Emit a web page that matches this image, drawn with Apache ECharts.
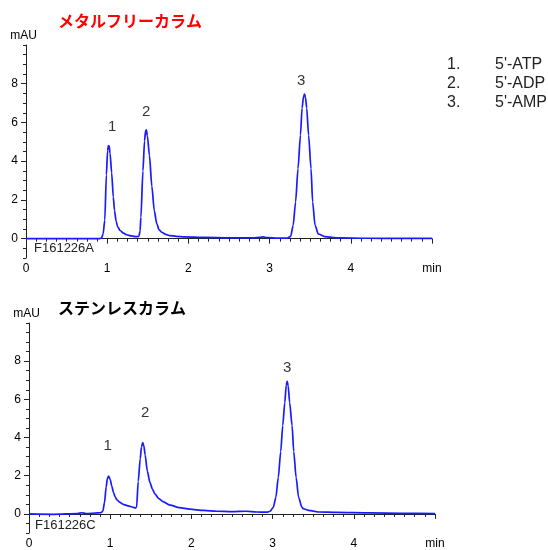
<!DOCTYPE html>
<html>
<head>
<meta charset="utf-8">
<script src="https://cdn.jsdelivr.net/npm/echarts@6/dist/echarts.min.js"></script>
<style>
  html, body { margin: 0; padding: 0; background: #fff; }
  #chart { width: 548px; height: 550px; }
</style>
</head>
<body>
<div id="chart"></div>
<script>
// Chromatogram traces: [retention time (min), absorbance (mAU)]
const metalFreeTrace = [
  [0, 0.0], [0.3, 0.0], [0.6, 0.0], [0.9, 0.0], [0.93, 0.02], [0.95, 0.25], [0.97, 0.95],
  [0.99, 3.3], [1.005, 4.55], [1.015, 4.8], [1.025, 4.78], [1.035, 4.4], [1.055, 3.4],
  [1.075, 2.15], [1.09, 1.45], [1.11, 0.9], [1.13, 0.6], [1.16, 0.42], [1.2, 0.28],
  [1.24, 0.2], [1.3, 0.14], [1.36, 0.1], [1.39, 0.11], [1.405, 0.4], [1.415, 1.1],
  [1.44, 3.5], [1.46, 5.05], [1.472, 5.55], [1.482, 5.62], [1.495, 5.3], [1.52, 4.3],
  [1.55, 2.7], [1.58, 1.45], [1.61, 0.78], [1.64, 0.45], [1.67, 0.33], [1.72, 0.22],
  [1.77, 0.16], [1.85, 0.12], [1.95, 0.09], [2.2, 0.06], [2.5, 0.04], [2.8, 0.04],
  [2.88, 0.07], [2.92, 0.09], [2.97, 0.05], [3.1, 0.03], [3.22, 0.03], [3.26, 0.12],
  [3.29, 0.68], [3.32, 1.89], [3.35, 3.62], [3.38, 5.35], [3.40, 6.74], [3.418, 7.35],
  [3.43, 7.46], [3.442, 7.3], [3.457, 6.74], [3.48, 5.35], [3.51, 3.62], [3.53, 1.89],
  [3.56, 0.68], [3.6, 0.24], [3.68, 0.1], [3.85, 0.04], [4.2, 0.02], [4.6, 0.01], [5, 0.01]
];
const stainlessTrace = [
  [0, 0.0], [0.3, -0.02], [0.6, 0.02], [0.65, 0.06], [0.7, 0.02], [0.85, 0.05],
  [0.89, 0.07], [0.91, 0.15], [0.93, 0.6], [0.95, 1.4], [0.965, 1.85], [0.98, 1.98],
  [1.0, 1.8], [1.02, 1.45], [1.04, 1.13], [1.06, 0.9], [1.08, 0.75], [1.12, 0.6],
  [1.16, 0.5], [1.22, 0.42], [1.28, 0.35], [1.31, 0.31], [1.325, 0.35], [1.345, 1.7],
  [1.37, 2.9], [1.385, 3.5], [1.40, 3.74], [1.415, 3.55], [1.43, 3.1], [1.457, 2.25],
  [1.49, 1.64], [1.52, 1.3], [1.55, 1.05], [1.6, 0.8], [1.65, 0.64], [1.74, 0.46],
  [1.85, 0.33], [1.98, 0.25], [2.15, 0.18], [2.31, 0.14], [2.5, 0.12], [2.68, 0.14],
  [2.8, 0.1], [2.93, 0.09], [2.97, 0.14], [3.01, 0.36], [3.04, 0.87], [3.07, 1.9],
  [3.10, 3.27], [3.125, 4.63], [3.15, 5.83], [3.168, 6.75], [3.18, 6.94], [3.192, 6.7],
  [3.21, 5.83], [3.24, 4.63], [3.26, 3.27], [3.29, 1.9], [3.32, 0.87], [3.36, 0.36],
  [3.38, 0.27], [3.44, 0.19], [3.5, 0.15], [3.56, 0.1], [3.79, 0.08], [4.2, 0.05],
  [4.6, 0.03], [5, 0.02]
];

// Peak number labels: [time, mAU, text]
const metalFreePeakLabels = [[1.06, 5.77, '1'], [1.48, 6.55, '2'], [3.39, 8.16, '3']];
const stainlessPeakLabels = [[0.97, 3.55, '1'], [1.43, 5.30, '2'], [3.18, 7.67, '3']];

// Axis ranges and tick labels
const timeRange = [0, 5];
const mauRange = [-1, 10];
const mauTickLabels = [0, 2, 4, 6, 8];

// Panel titles, run IDs and compound list
const panelTitles = ['メタルフリーカラム', 'ステンレスカラム'];
const runIds = ['F161226A', 'F161226C'];
const compoundNumbers = ['1.', '2.', '3.'];
const compoundNames = ["5'-ATP", "5'-ADP", "5'-AMP"];

const LATIN = '"Liberation Sans", Arial, sans-serif';
const CJK = '"Noto Sans CJK JP", sans-serif';
const AXIS_COLOR = '#222';
const TEXT_COLOR = '#000';
const TRACE_COLOR = '#1a1aff';

const grids = [
  { left: 26, width: 406, top: 45, height: 213 },
  { left: 29, width: 406, top: 323, height: 213 }
];

function xAxisFor(i) {
  return {
    type: 'value', gridIndex: i, position: 'bottom',
    min: timeRange[0], max: timeRange[1], interval: 1,
    axisLine: { lineStyle: { color: AXIS_COLOR, width: 1 } },
    axisTick: { length: 5, lineStyle: { color: AXIS_COLOR } },
    minorTick: { show: true, splitNumber: 8, length: 3, lineStyle: { color: AXIS_COLOR } },
    splitLine: { show: false },
    axisLabel: {
      margin: 5, color: TEXT_COLOR, fontSize: 12, fontFamily: LATIN,
      formatter: v => (v === timeRange[1] ? 'min' : String(v))
    }
  };
}

// Main y axis: line and fine ticks every 0.5 mAU
function yAxisFor(i) {
  return {
    type: 'value', gridIndex: i, position: 'left', offset: 0,
    min: mauRange[0], max: mauRange[1], interval: 0.5,
    name: 'mAU', nameLocation: 'end', nameGap: 3,
    nameTextStyle: { color: TEXT_COLOR, fontSize: 12, fontFamily: LATIN, align: 'center', padding: [0, 5, 0, 0] },
    axisLine: { show: true, lineStyle: { color: AXIS_COLOR, width: 1 } },
    axisTick: { show: true, length: 3, lineStyle: { color: AXIS_COLOR } },
    splitLine: { show: false },
    axisLabel: { show: false }
  };
}

// Companion y axis carrying the numbered labels and longer major ticks
function yLabelAxisFor(i) {
  return {
    type: 'value', gridIndex: i, position: 'left', offset: 0,
    min: mauRange[0], max: mauRange[1],
    axisLine: { show: false },
    axisTick: { show: true, length: 5, customValues: mauTickLabels, lineStyle: { color: AXIS_COLOR } },
    splitLine: { show: false },
    axisLabel: { show: true, customValues: mauTickLabels, margin: 8, color: TEXT_COLOR, fontSize: 12, fontFamily: LATIN }
  };
}

function traceSeries(i, data) {
  return {
    type: 'line', xAxisIndex: i, yAxisIndex: i, data: data,
    showSymbol: false, smooth: 0.25, smoothMonotone: 'x',
    lineStyle: { color: TRACE_COLOR, width: 1.7 }, silent: true, animation: false
  };
}

function peakLabelSeries(i, data) {
  return {
    type: 'scatter', xAxisIndex: i, yAxisIndex: i, data: data, symbolSize: 0,
    silent: true, animation: false,
    label: {
      show: true, position: 'inside', formatter: p => p.value[2],
      color: TEXT_COLOR, fontSize: 15, fontFamily: LATIN
    }
  };
}

const graphics = [
  { type: 'text', left: 58, top: 13, style: { text: panelTitles[0], fill: '#f00', font: 'bold 16px ' + CJK } },
  { type: 'text', left: 58, top: 300, style: { text: panelTitles[1], fill: '#000', font: 'bold 16px ' + CJK } },
  { type: 'text', left: 34, top: 242, style: { text: runIds[0], fill: '#222', font: '13px ' + LATIN } },
  { type: 'text', left: 35, top: 519, style: { text: runIds[1], fill: '#222', font: '13px ' + LATIN } }
];
compoundNumbers.forEach((n, k) => {
  const y = 57 + k * 18.7;
  graphics.push({ type: 'text', left: 447, top: y, style: { text: n, fill: '#222', font: '16px ' + LATIN } });
  graphics.push({ type: 'text', left: 495, top: y, style: { text: compoundNames[k], fill: '#222', font: '16px ' + LATIN } });
});

const chart = echarts.init(document.getElementById('chart'), null, { renderer: 'canvas' });
chart.setOption({
  backgroundColor: '#fff',
  animation: false,
  grid: grids,
  xAxis: [xAxisFor(0), xAxisFor(1)],
  yAxis: [yAxisFor(0), yAxisFor(1), yLabelAxisFor(0), yLabelAxisFor(1)],
  series: [
    traceSeries(0, metalFreeTrace),
    traceSeries(1, stainlessTrace),
    peakLabelSeries(0, metalFreePeakLabels),
    peakLabelSeries(1, stainlessPeakLabels)
  ],
  graphic: graphics
});
</script>
</body>
</html>
